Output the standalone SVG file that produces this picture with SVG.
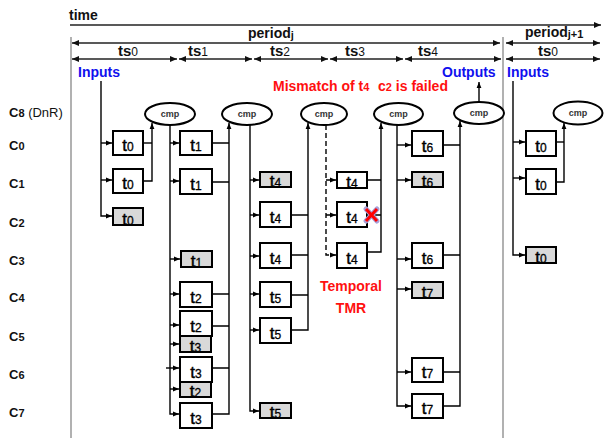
<svg xmlns="http://www.w3.org/2000/svg" width="604" height="438" viewBox="0 0 604 438">
<defs>
<marker id="a" viewBox="0 0 6 6" refX="6" refY="3" markerWidth="6" markerHeight="6" markerUnits="userSpaceOnUse" orient="auto"><path d="M0,0.6 L6,3 L0,5.4z" fill="#000"/></marker>
<marker id="b" viewBox="0 0 7 7" refX="7" refY="3.5" markerWidth="7" markerHeight="7" markerUnits="userSpaceOnUse" orient="auto-start-reverse"><path d="M0,0.5 L7,3.5 L0,6.5z" fill="#111"/></marker>
<style>
text{font-family:"Liberation Sans",Arial,sans-serif}
.hd{font-size:14px;font-weight:bold;fill:#111}
.ts{font-size:15px;font-weight:bold;fill:#111;text-anchor:middle}
.sub{font-size:12px;font-weight:normal}
.rl{font-size:13px;font-weight:bold;fill:#111}
.rl .d{font-size:11px}
.rl .n{font-weight:normal}
.blue{font-size:14px;font-weight:bold;fill:#1010ee}
.red{font-size:14px;font-weight:bold;fill:#ff1010}
.red .s{font-size:11px}
.tl{stroke:#222;stroke-width:1.3;fill:none}
.gl{stroke:#888;stroke-width:1.3;fill:none}
.c{stroke:#000;stroke-width:1.4;fill:none}
.dash{stroke-dasharray:5,3}
.box{fill:#fff;stroke:#000;stroke-width:2}
.gbox{fill:#d9d9d9;stroke:#000;stroke-width:2}
.bt{font-size:17px;fill:#000;stroke:#000;stroke-width:0.45;text-anchor:middle}
.bt .s{font-size:12px;stroke-width:0.3}
.cmp ellipse{fill:#fff;stroke:#000;stroke-width:2}
.cmp text{font-size:9px;font-weight:bold;fill:#333;text-anchor:middle}
</style>
</defs>
<rect width="604" height="438" fill="#fff"/>

<g id="timeline">
<text class="hd" x="69" y="20">time</text>
<path class="tl" d="M70,25 H601" marker-end="url(#b)"/>
<path class="gl" d="M71,37 V438 M503,37 V438"/>
<path class="tl" d="M72,43 H500" marker-start="url(#b)" marker-end="url(#b)"/>
<text class="hd" x="248" y="38">period<tspan font-size="11" dy="1">j</tspan></text>
<path class="tl" d="M506,43 H600" marker-start="url(#b)" marker-end="url(#b)"/>
<text class="hd" x="525" y="37">period<tspan font-size="11" dy="1">j+1</tspan></text>
<path class="tl" d="M72,59 H177" marker-start="url(#b)" marker-end="url(#b)"/>
<path class="tl" d="M179,59 H252" marker-start="url(#b)" marker-end="url(#b)"/>
<path class="tl" d="M254,59 H328" marker-start="url(#b)" marker-end="url(#b)"/>
<path class="tl" d="M330,59 H403" marker-start="url(#b)" marker-end="url(#b)"/>
<path class="tl" d="M405,59 H501" marker-start="url(#b)" marker-end="url(#b)"/>
<path class="tl" d="M506,59 H600" marker-start="url(#b)" marker-end="url(#b)"/>
<text class="ts" x="128" y="56">ts<tspan class="sub">0</tspan></text>
<text class="ts" x="198" y="56">ts<tspan class="sub">1</tspan></text>
<text class="ts" x="280" y="56">ts<tspan class="sub">2</tspan></text>
<text class="ts" x="355" y="56">ts<tspan class="sub">3</tspan></text>
<text class="ts" x="428" y="56">ts<tspan class="sub">4</tspan></text>
<text class="ts" x="548" y="56">ts<tspan class="sub">0</tspan></text>
</g>

<g id="row-labels">
<text class="rl" x="9" y="117">C<tspan class="d">8</tspan><tspan class="n"> (DnR)</tspan></text>
<text class="rl" x="9" y="150">C<tspan class="d">0</tspan></text>
<text class="rl" x="9" y="188">C<tspan class="d">1</tspan></text>
<text class="rl" x="9" y="227">C<tspan class="d">2</tspan></text>
<text class="rl" x="9" y="265">C<tspan class="d">3</tspan></text>
<text class="rl" x="9" y="302">C<tspan class="d">4</tspan></text>
<text class="rl" x="9" y="341">C<tspan class="d">5</tspan></text>
<text class="rl" x="9" y="379">C<tspan class="d">6</tspan></text>
<text class="rl" x="9" y="417">C<tspan class="d">7</tspan></text>
</g>

<g id="annotations">
<text class="blue" x="78" y="77">Inputs</text>
<text class="blue" x="442" y="77">Outputs</text>
<text class="blue" x="507" y="77">Inputs</text>
<text class="red" x="273" y="91">Mismatch of t<tspan class="s">4</tspan></text>
<text class="red" x="378" y="91">c<tspan class="s">2</tspan> is failed</text>
<text class="red" x="351" y="291" text-anchor="middle">Temporal</text>
<text class="red" x="351" y="313" text-anchor="middle">TMR</text>
</g>

<g id="connectors">
<path class="c" d="M101,81 V216 H112" marker-end="url(#a)"/>
<path class="c" d="M101,143 H112" marker-end="url(#a)"/>
<path class="c" d="M101,180 H112" marker-end="url(#a)"/>
<path class="c" d="M143,143 H152"/>
<path class="c" d="M143,181 H152 V123" marker-end="url(#a)"/>

<path class="c" d="M170,125 V414 H179" marker-end="url(#a)"/>
<path class="c" d="M170,143 H179" marker-end="url(#a)"/>
<path class="c" d="M170,181 H179" marker-end="url(#a)"/>
<path class="c" d="M170,259 H180" marker-end="url(#a)"/>
<path class="c" d="M170,294 H179" marker-end="url(#a)"/>
<path class="c" d="M170,325 H179" marker-end="url(#a)"/>
<path class="c" d="M170,344 H179" marker-end="url(#a)"/>
<path class="c" d="M166,368 H179" marker-end="url(#a)"/>
<path class="c" d="M170,389 H179" marker-end="url(#a)"/>
<path class="c" d="M212,143 H229 M212,182 H229 M212,294 H229 M212,326 H229 M212,368 H229"/>
<path class="c" d="M212,414 H229 V123" marker-end="url(#a)"/>

<path class="c" d="M250,125 V411 H259" marker-end="url(#a)"/>
<path class="c" d="M250,180 H259" marker-end="url(#a)"/>
<path class="c" d="M250,215 H259" marker-end="url(#a)"/>
<path class="c" d="M250,256 H259" marker-end="url(#a)"/>
<path class="c" d="M250,294 H259" marker-end="url(#a)"/>
<path class="c" d="M250,330 H259" marker-end="url(#a)"/>
<path class="c" d="M291,215 H308 M291,255 H308 M291,295 H308"/>
<path class="c" d="M291,330 H308 V123" marker-end="url(#a)"/>

<path class="c dash" d="M326,125 V255 H336" marker-end="url(#a)"/>
<path class="c dash" d="M326,180 H336" marker-end="url(#a)"/>
<path class="c dash" d="M326,215 H336" marker-end="url(#a)"/>
<path class="c" d="M367,180 H381 M367,215 H381"/>
<path class="c" d="M367,252 H381 V123" marker-end="url(#a)"/>

<path class="c" d="M397,125 V406 H411" marker-end="url(#a)"/>
<path class="c" d="M397,145 H411" marker-end="url(#a)"/>
<path class="c" d="M397,180 H411" marker-end="url(#a)"/>
<path class="c" d="M397,259 H411" marker-end="url(#a)"/>
<path class="c" d="M397,289 H411" marker-end="url(#a)"/>
<path class="c" d="M397,372 H411" marker-end="url(#a)"/>
<path class="c" d="M443,145 H460 M443,255 H460 M443,372 H460"/>
<path class="c" d="M443,406 H460 V121" marker-end="url(#a)"/>
<path class="c" d="M479,102 V82" marker-end="url(#a)"/>

<path class="c" d="M513,81 V255 H525" marker-end="url(#a)"/>
<path class="c" d="M513,142 H525" marker-end="url(#a)"/>
<path class="c" d="M513,178 H525" marker-end="url(#a)"/>
<path class="c" d="M556,142 H564"/>
<path class="c" d="M556,182 H564 V123" marker-end="url(#a)"/>
</g>

<g id="cmp1" class="cmp"><ellipse cx="170" cy="114" rx="25" ry="11"/><text x="170" y="117">cmp</text></g>
<g id="cmp2" class="cmp"><ellipse cx="247" cy="114" rx="25" ry="11"/><text x="247" y="117">cmp</text></g>
<g id="cmp3" class="cmp"><ellipse cx="324" cy="114" rx="23" ry="11"/><text x="324" y="117">cmp</text></g>
<g id="cmp4" class="cmp"><ellipse cx="398.5" cy="114" rx="24.5" ry="11"/><text x="398.5" y="117">cmp</text></g>
<g id="cmp5" class="cmp"><ellipse cx="479" cy="113" rx="25" ry="11"/><text x="479" y="116">cmp</text></g>
<g id="cmp6" class="cmp"><ellipse cx="578" cy="113" rx="24.5" ry="11.5"/><text x="578" y="116">cmp</text></g>

<g id="ts0-c0"><rect class="box" x="113" y="131" width="30" height="24"/><text class="bt" x="128" y="151">t<tspan class="s">0</tspan></text></g>
<g id="ts0-c1"><rect class="box" x="113" y="169" width="30" height="24"/><text class="bt" x="128" y="189">t<tspan class="s">0</tspan></text></g>
<g id="ts0-c2"><rect class="gbox" x="113" y="208" width="30" height="17"/><text class="bt" x="128" y="225">t<tspan class="s">0</tspan></text></g>

<g id="ts1-c0"><rect class="box" x="180" y="131" width="32" height="24"/><text class="bt" x="196" y="151">t<tspan class="s">1</tspan></text></g>
<g id="ts1-c1"><rect class="box" x="180" y="169" width="32" height="25"/><text class="bt" x="196" y="190">t<tspan class="s">1</tspan></text></g>
<g id="ts1-c3"><rect class="gbox" x="181" y="251" width="31" height="16"/><text class="bt" x="196.5" y="267">t<tspan class="s">1</tspan></text></g>
<g id="ts1-c4"><rect class="box" x="180" y="282" width="32" height="25"/><text class="bt" x="196" y="303">t<tspan class="s">2</tspan></text></g>
<g id="ts1-c5a"><rect class="box" x="180" y="311" width="32" height="25"/><text class="bt" x="196" y="332">t<tspan class="s">2</tspan></text></g>
<g id="ts1-c5b"><rect class="gbox" x="180" y="336" width="31" height="16"/><text class="bt" x="195.5" y="352">t<tspan class="s">3</tspan></text></g>
<g id="ts1-c6a"><rect class="box" x="180" y="357" width="32" height="25"/><text class="bt" x="196" y="378">t<tspan class="s">3</tspan></text></g>
<g id="ts1-c6b"><rect class="gbox" x="180" y="382" width="31" height="15"/><text class="bt" x="195.5" y="397">t<tspan class="s">2</tspan></text></g>
<g id="ts1-c7"><rect class="box" x="180" y="403" width="32" height="25"/><text class="bt" x="196" y="424">t<tspan class="s">3</tspan></text></g>

<g id="ts2-c1"><rect class="gbox" x="260" y="172" width="31" height="15"/><text class="bt" x="275.5" y="187">t<tspan class="s">4</tspan></text></g>
<g id="ts2-c2"><rect class="box" x="260" y="202" width="31" height="25"/><text class="bt" x="275.5" y="223">t<tspan class="s">4</tspan></text></g>
<g id="ts2-c3"><rect class="box" x="260" y="243" width="31" height="25"/><text class="bt" x="275.5" y="264">t<tspan class="s">4</tspan></text></g>
<g id="ts2-c4"><rect class="box" x="260" y="282" width="31" height="25"/><text class="bt" x="275.5" y="303">t<tspan class="s">5</tspan></text></g>
<g id="ts2-c5"><rect class="box" x="260" y="318" width="31" height="25"/><text class="bt" x="275.5" y="339">t<tspan class="s">5</tspan></text></g>
<g id="ts2-c7"><rect class="gbox" x="260" y="403" width="31" height="15"/><text class="bt" x="275.5" y="418">t<tspan class="s">5</tspan></text></g>

<g id="ts3-c1"><rect class="box" x="337" y="172" width="30" height="16"/><text class="bt" x="352" y="188">t<tspan class="s">4</tspan></text></g>
<g id="ts3-c2"><rect class="box" x="337" y="202" width="30" height="25"/><text class="bt" x="352" y="223">t<tspan class="s">4</tspan></text></g>
<g id="ts3-c3"><rect class="box" x="337" y="243" width="30" height="25"/><text class="bt" x="352" y="264">t<tspan class="s">4</tspan></text></g>
<g id="fail-mark"><path d="M366,209 L377,221 M377,209 L366,221" stroke="#a8a0d8" stroke-width="5" stroke-linecap="round" fill="none"/><path d="M366,209 L377,221 M377,209 L366,221" stroke="#ff0000" stroke-width="3" fill="none"/></g>

<g id="ts4-c0"><rect class="box" x="412" y="131" width="31" height="25"/><text class="bt" x="427.5" y="152">t<tspan class="s">6</tspan></text></g>
<g id="ts4-c1"><rect class="gbox" x="412" y="172" width="31" height="15"/><text class="bt" x="427.5" y="187">t<tspan class="s">6</tspan></text></g>
<g id="ts4-c3"><rect class="box" x="412" y="243" width="31" height="25"/><text class="bt" x="427.5" y="264">t<tspan class="s">6</tspan></text></g>
<g id="ts4-c4"><rect class="gbox" x="412" y="282" width="31" height="16"/><text class="bt" x="427.5" y="298">t<tspan class="s">7</tspan></text></g>
<g id="ts4-c6"><rect class="box" x="412" y="358" width="31" height="24"/><text class="bt" x="427.5" y="378">t<tspan class="s">7</tspan></text></g>
<g id="ts4-c7"><rect class="box" x="412" y="394" width="31" height="24"/><text class="bt" x="427.5" y="414">t<tspan class="s">7</tspan></text></g>

<g id="next-c0"><rect class="box" x="526" y="131" width="30" height="25"/><text class="bt" x="541" y="152">t<tspan class="s">0</tspan></text></g>
<g id="next-c1"><rect class="box" x="526" y="169" width="30" height="25"/><text class="bt" x="541" y="190">t<tspan class="s">0</tspan></text></g>
<g id="next-c3"><rect class="gbox" x="526" y="247" width="30" height="16"/><text class="bt" x="541" y="263">t<tspan class="s">0</tspan></text></g>
</svg>
